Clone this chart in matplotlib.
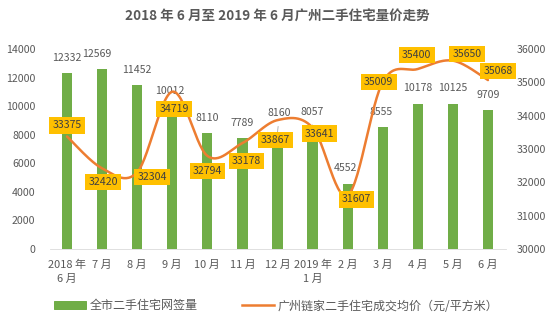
import numpy as np
import matplotlib.pyplot as plt
from matplotlib.patches import Patch
from matplotlib.lines import Line2D

plt.rcParams['font.family'] = ['Noto Sans CJK SC', 'DejaVu Sans']

months = ['2018 年\n6 月', '7 月', '8 月', '9 月', '10 月', '11 月', '12 月',
          '2019 年\n1 月', '2 月', '3 月', '4 月', '5 月', '6 月']
volume = [12332, 12569, 11452, 10012, 8110, 7789, 8160, 8057, 4552, 8555, 10178, 10125, 9709]
price = [33375, 32420, 32304, 34719, 32794, 33178, 33867, 33641, 31607, 35009, 35400, 35650, 35068]

# label offsets in pixels (dpi is 72, so points == pixels)
vol_off = [(0, 15), (-5, 15), (0, 15), (-2, 15), (0, 15), (0, 15), (2, 19),
           (0, 22), (-2, 16), (-2, 15), (0, 16), (0, 16), (0, 15)]
price_off = [(0, 11), (1, -14), (15, -5), (2, -17), (0, -15), (4, -18), (-2, -20),
             (7, -6), (9, -4), (-4, 0), (-1, 14), (14, 7), (10, 9)]

GREEN = '#70AD47'
ORANGE = '#ED7D31'
GOLD = '#FFC000'
GREY = '#595959'


def smooth(xs, ys, n=30):
    # bezier segments with catmull-rom style control points
    xs = np.asarray(xs, float)
    ys = np.asarray(ys, float)
    P = np.column_stack([xs, ys])
    out = []
    t = np.linspace(0, 1, n)
    for i in range(len(P) - 1):
        p0 = P[i]
        p3 = P[i + 1]
        prev = P[i - 1] if i > 0 else P[i]
        nxt = P[i + 2] if i + 2 < len(P) else P[i + 1]
        p1 = p0 + (p3 - prev) / 6
        p2 = p3 - (nxt - p0) / 6
        seg = ((1 - t) ** 3)[:, None] * p0 + (3 * (1 - t) ** 2 * t)[:, None] * p1 \
            + (3 * (1 - t) * t ** 2)[:, None] * p2 + (t ** 3)[:, None] * p3
        out.append(seg if i == 0 else seg[1:])
    c = np.vstack(out)
    return c[:, 0], c[:, 1]


fig = plt.figure(figsize=(554 / 72, 323 / 72), dpi=72)
ax = fig.add_axes([49.5 / 554, 74 / 323, 456 / 554, 200 / 323])
ax2 = ax.twinx()

x = np.arange(len(months))
ax.bar(x, volume, width=0.29, color=GREEN, zorder=2)
ax.set_ylim(0, 14000)
ax.set_xlim(-0.5, len(months) - 0.5)
ax.set_yticks(np.arange(0, 14001, 2000))
ax.set_xticks(x)
ax.set_xticklabels(months, linespacing=1.45)

sx, sy = smooth(x, price)
ax2.plot(sx, sy, color=ORANGE, lw=2.5, solid_capstyle='round', zorder=3)
ax2.set_ylim(30000, 36000)
ax2.set_yticks(np.arange(30000, 36001, 1000))

for a in (ax, ax2):
    for s in a.spines.values():
        s.set_visible(False)
    a.tick_params(length=0, colors=GREY, labelsize=10.5)
ax.spines['bottom'].set_visible(True)
ax.spines['bottom'].set_color('#D9D9D9')
ax.tick_params(axis='y', pad=14)
ax2.tick_params(axis='y', pad=11)
ax.tick_params(axis='x', pad=11, labelsize=11)

for i, v in enumerate(volume):
    dx, dy = vol_off[i]
    lead = dict(arrowstyle='-', color='#A6A6A6', lw=0.8, shrinkA=6, shrinkB=0) if dy > 18 else None
    ax.annotate(str(v), (i, v), xytext=(dx, dy), textcoords='offset points',
                ha='center', va='center', fontsize=10.5, color=GREY,
                arrowprops=lead, zorder=4)

for i, p in enumerate(price):
    dx, dy = price_off[i]
    ax2.annotate(str(p), (i, p), xytext=(dx, dy), textcoords='offset points',
                 ha='center', va='center', fontsize=10.5, color='#404040',
                 bbox=dict(boxstyle='square,pad=0.3', fc=GOLD, ec='none'),
                 zorder=5)

fig.text(0.5, 1 - 17 / 323, '2018 年 6 月至 2019 年 6 月广州二手住宅量价走势',
         ha='center', va='center', fontsize=13.5, fontweight='bold', color=GREY)

handles = [Patch(color=GREEN), Line2D([], [], color=ORANGE, lw=2.5)]
labels = ['全市二手住宅网签量', '广州链家二手住宅成交均价（元/平方米）']
fig.legend(handles, labels, loc='center', bbox_to_anchor=(276 / 554, 1 - 306 / 323),
           ncol=2, frameon=False, fontsize=12, labelcolor=GREY,
           handlelength=2.65, handleheight=0.6, columnspacing=3.7, handletextpad=0.3)

fig.savefig('out.png', dpi=72)
